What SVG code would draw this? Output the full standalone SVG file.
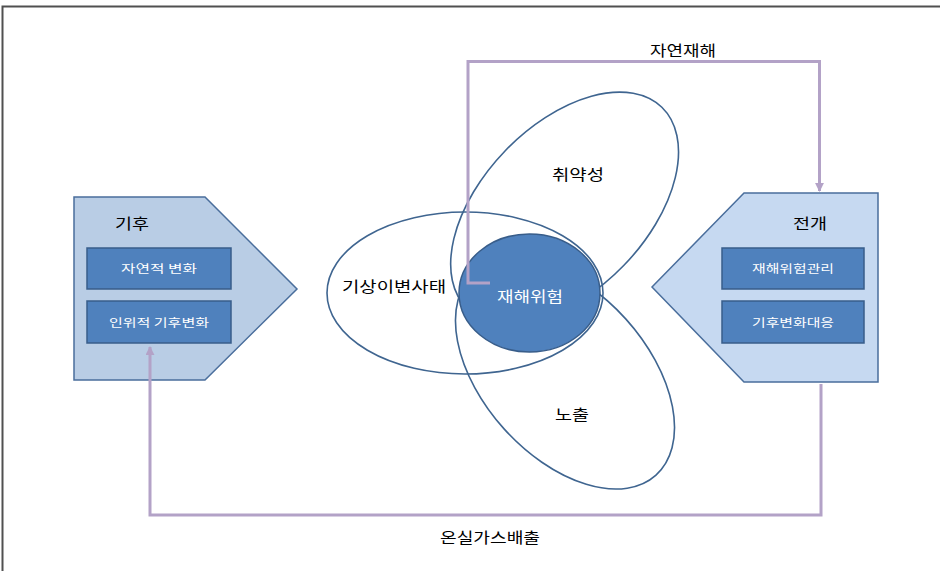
<svg xmlns="http://www.w3.org/2000/svg" width="940" height="571" viewBox="0 0 940 571">
<style>
.t{font-family:"Noto Sans CJK KR","Noto Sans",sans-serif;fill:#000;text-anchor:middle;dominant-baseline:central}
.w{fill:#fff}
.box{fill:#4f81bd;stroke:#385d8a;stroke-width:1.5}
.ell{fill:none;stroke:#3f6590;stroke-width:1.6}
.con{fill:none;stroke:#b3a2c7;stroke-width:3}
</style>
<defs>
<marker id="ah" viewBox="0 0 10 10" refX="9" refY="5" markerWidth="3" markerHeight="3" orient="auto" markerUnits="strokeWidth">
<path d="M0,0 L10,5 L0,10 z" fill="#b3a2c7"/>
</marker>
</defs>
<rect x="0" y="0" width="940" height="571" fill="#fff"/>
<path d="M2.5,571 V6.5 H940" fill="none" stroke="#505050" stroke-width="2"/>

<g id="ellipse-weather">
<ellipse class="ell" cx="465" cy="293" rx="138" ry="81"/>
<text class="t" x="394" y="285" font-size="15" textLength="104" lengthAdjust="spacingAndGlyphs">기상이변사태</text>
</g>
<g id="ellipse-vulnerability">
<ellipse class="ell" cx="0" cy="0" rx="140" ry="82.5" transform="translate(564.6,208) rotate(-46)"/>
<text class="t" x="578" y="173" font-size="15" textLength="52" lengthAdjust="spacingAndGlyphs">취약성</text>
</g>
<g id="ellipse-exposure">
<ellipse class="ell" cx="0" cy="0" rx="136" ry="82" transform="translate(565,374) rotate(48)"/>
<text class="t" x="572" y="413" font-size="15" textLength="34" lengthAdjust="spacingAndGlyphs">노출</text>
</g>
<g id="risk">
<ellipse cx="529.5" cy="293" rx="70.5" ry="59" fill="#4f81bd" stroke="#385d8a" stroke-width="1.5"/>
<text class="t w" x="530" y="295" font-size="15" textLength="66" lengthAdjust="spacingAndGlyphs">재해위험</text>
</g>

<g id="climate">
<path d="M74,197 H205 L297,289 L205,380 H74 Z" fill="#b9cde5" stroke="#4a6e9c" stroke-width="1.5"/>
<text class="t" x="132" y="222" font-size="15" textLength="34" lengthAdjust="spacingAndGlyphs">기후</text>
<rect class="box" x="87" y="248" width="144" height="41"/>
<text class="t w" x="159" y="268" font-size="11" textLength="76" lengthAdjust="spacingAndGlyphs">자연적 변화</text>
<rect class="box" x="87" y="301" width="144" height="42"/>
<text class="t w" x="159" y="322" font-size="11" textLength="100" lengthAdjust="spacingAndGlyphs">인위적 기후변화</text>
</g>

<g id="response">
<path d="M744,193 H878 V382 H744 L652,287 Z" fill="#c6d9f1" stroke="#4a6e9c" stroke-width="1.5"/>
<text class="t" x="810" y="222" font-size="15" textLength="34" lengthAdjust="spacingAndGlyphs">전개</text>
<rect class="box" x="722" y="248" width="142" height="41"/>
<text class="t w" x="793" y="268" font-size="11" textLength="82" lengthAdjust="spacingAndGlyphs">재해위험관리</text>
<rect class="box" x="722" y="301" width="142" height="42"/>
<text class="t w" x="793" y="322" font-size="11" textLength="82" lengthAdjust="spacingAndGlyphs">기후변화대응</text>
</g>

<g id="connectors">
<path class="con" d="M490,283 H468 V61.5 H819.5 V191" marker-end="url(#ah)"/>
<text class="t" x="683" y="49" font-size="15" textLength="66" lengthAdjust="spacingAndGlyphs">자연재해</text>
<path class="con" d="M821,384 V515 H150 V347" marker-end="url(#ah)"/>
<text class="t" x="490" y="536" font-size="15" textLength="100" lengthAdjust="spacingAndGlyphs">온실가스배출</text>
</g>
</svg>
